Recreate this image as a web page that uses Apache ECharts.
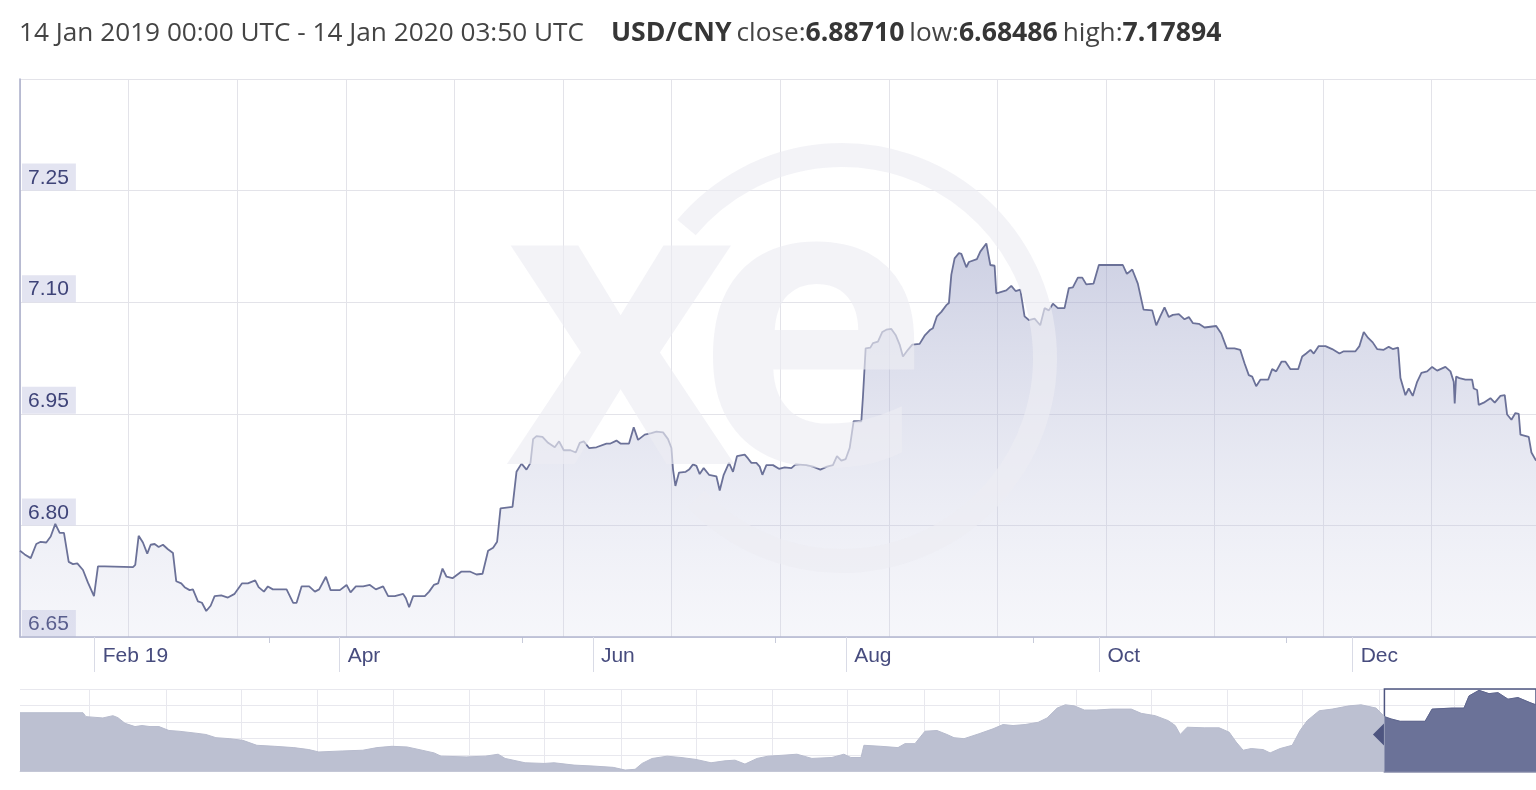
<!DOCTYPE html>
<html><head><meta charset="utf-8">
<script src="https://cdn.jsdelivr.net/npm/echarts@6/dist/echarts.min.js"></script>
<style>html,body{margin:0;padding:0;background:#fff}#c{width:1536px;height:790px}</style>
</head><body><div id="c"></div>
<script>
// ---------- header texts ----------
const headerRange = '14 Jan 2019 00:00 UTC - 14 Jan 2020 03:50 UTC';
const pairName = 'USD/CNY';
const statNames = ['close:', 'low:', 'high:'];
const statValues = ['6.88710', '6.68486', '7.17894'];

// ---------- main series (days after 14 Jan 2019 00:00 UTC, USD/CNY rate) ----------
const rangeStart = '2019-01-14T00:00:00Z';
const rangeEnd = '2020-01-14T03:50:00Z';
const dayOffsets = [
  0,1.13,2.58,3.92,4.98,6.33,7.39,8.50,9.56,10.59,11.73,12.76,13.80,15.17,16.37,17.82,18.78,20.39,
  27.21,27.76,28.58,29.61,30.65,31.47,32.43,33.40,34.43,35.63,36.84,37.63,38.84,39.65,40.86,41.65,
  42.86,43.82,44.86,45.92,46.88,48.47,50.08,51.69,53.45,54.89,56.65,57.47,58.75,59.71,60.91,62.12,
  64.21,65.80,66.62,67.82,69.65,71.03,72.06,73.68,74.81,77.05,78.66,79.62,80.90,82.66,84.27,85.71,
  87.47,88.67,90.29,92.29,92.94,93.73,94.70,97.51,98.55,99.68,100.71,101.77,102.74,104.18,106.35,
  108.35,109.96,111.41,112.75,113.96,114.92,115.74,118.63,119.59,120.80,122.00,122.96,123.59,124.41,
  125.85,127.20,128.81,129.85,130.98,132.59,133.87,134.83,135.79,137.07,138.85,141.26,142.22,143.67,
  144.63,146.70,147.83,148.87,150.48,152.09,153.30,154.89,156.09,156.91,157.30,157.87,158.74,160.35,
  161.15,162.11,162.93,163.72,164.68,165.96,167.74,168.54,169.50,170.78,171.74,172.70,174.56,175.35,
  176.17,177.37,178.17,178.82,179.78,181.37,182.81,184.19,185.80,186.84,189.41,191.00,192.78,194.37,
  195.81,196.78,197.84,198.87,199.84,200.80,202.65,203.04,203.69,204.82,205.45,206.65,207.71,208.67,
  209.88,210.91,211.88,212.67,213.87,214.93,216.69,217.89,219.27,219.89,220.86,221.92,223.12,223.75,
  224.33,225.12,226.16,226.74,227.94,228.57,230.49,231.31,232.76,233.72,234.75,235.16,235.79,237.57,
  238.77,239.81,240.94,241.97,243.01,244.38,245.75,246.79,247.82,248.79,249.99,251.60,252.64,253.60,
  254.81,255.87,256.83,258.59,259.87,265.64,266.61,267.91,269.25,270.63,272.72,273.69,274.65,275.68,
  276.72,277.68,279.13,280.50,281.54,282.50,283.95,285.32,288.13,289.34,290.68,292.54,293.91,294.95,
  295.98,296.80,297.76,298.80,300.65,301.61,302.58,303.85,304.82,306.02,307.87,308.84,309.80,310.84,
  311.63,312.83,314.45,316.06,317.82,318.85,321.67,322.63,323.67,324.73,325.83,326.89,328.48,329.69,
  330.65,331.95,332.51,333.71,334.51,335.47,336.53,337.56,338.94,340.14,341.35,343.34,344.55,345.34,
  345.58,345.92,346.71,348.16,349.77,350.16,350.98,351.36,352.57,354.18,355.22,356.59,357.63,358.20,
  359.24,360.20,361.00,361.41,363.41,364.06,365.16
];
const rates = [
  6.766,6.761,6.756,6.775,6.778,6.777,6.785,6.802,6.790,6.790,6.751,6.748,6.749,6.740,6.723,6.705,6.745,6.745,
  6.744,6.747,6.786,6.777,6.762,6.774,6.775,6.771,6.774,6.768,6.763,6.725,6.722,6.717,6.713,6.714,
  6.698,6.696,6.685,6.692,6.705,6.706,6.703,6.708,6.722,6.722,6.726,6.717,6.711,6.718,6.714,6.714,
  6.714,6.696,6.696,6.718,6.718,6.711,6.714,6.731,6.713,6.713,6.720,6.710,6.718,6.718,6.720,6.714,
  6.718,6.705,6.705,6.708,6.702,6.690,6.705,6.705,6.711,6.720,6.722,6.742,6.731,6.729,6.738,
  6.738,6.734,6.735,6.766,6.770,6.778,6.823,6.825,6.872,6.883,6.875,6.884,6.916,6.920,
  6.919,6.911,6.905,6.913,6.901,6.901,6.898,6.911,6.913,6.904,6.905,6.910,6.910,6.914,
  6.910,6.910,6.932,6.915,6.922,6.924,6.926,6.925,6.916,6.904,6.875,6.853,6.871,6.872,
  6.875,6.882,6.880,6.869,6.877,6.868,6.866,6.847,6.868,6.884,6.872,6.893,6.895,6.890,
  6.884,6.884,6.879,6.868,6.881,6.881,6.876,6.878,6.877,6.882,6.881,6.879,6.875,6.879,
  6.881,6.893,6.887,6.889,6.904,6.940,6.940,6.973,7.038,7.039,7.045,7.047,7.060,7.063,
  7.064,7.056,7.043,7.027,7.036,7.043,7.044,7.055,7.063,7.065,7.081,7.087,7.096,7.099,
  7.137,7.159,7.166,7.165,7.147,7.154,7.158,7.168,7.179,7.150,7.149,7.112,7.113,7.116,
  7.122,7.115,7.117,7.081,7.076,7.078,7.069,7.092,7.089,7.098,7.092,7.092,7.119,7.120,
  7.133,7.133,7.124,7.125,7.150,7.150,7.138,7.144,7.125,7.090,7.089,7.069,7.081,7.093,
  7.080,7.083,7.084,7.077,7.080,7.072,7.071,7.066,7.068,7.058,7.038,7.038,7.036,7.018,
  7.002,7.000,6.987,6.996,6.996,7.010,7.007,7.020,7.020,7.010,7.010,7.027,7.031,7.036,
  7.031,7.041,7.041,7.037,7.031,7.034,7.034,7.041,7.060,7.052,7.046,7.037,7.036,7.040,
  7.037,7.039,6.998,6.975,6.984,6.974,6.993,7.005,7.007,7.013,7.008,7.013,7.007,6.993,
  6.964,7.000,6.998,6.996,6.996,6.984,6.982,6.962,6.965,6.971,6.965,6.974,6.975,6.949,
  6.942,6.951,6.950,6.922,6.919,6.898,6.887
];

// ---------- axis ticks ----------
const yTickValues = [6.65, 6.80, 6.95, 7.10, 7.25];
const yAxisTop = 7.40;
const yAxisBottom = 6.65;
const xTickDates = ['2019-02-01','2019-04-01','2019-06-01','2019-08-01','2019-10-01','2019-12-01'];
const xTickLabels = ['Feb 19','Apr','Jun','Aug','Oct','Dec'];
const xMinorTickDates = ['2019-03-15','2019-05-15','2019-07-15','2019-09-15','2019-11-15'];
const mainGridColumns = 13.96;

// ---------- navigator (decimal year, USD/CNY rate) ----------
const navYears = [
  2010.036,2010.452,2010.471,2010.583,2010.649,2010.682,2010.729,2010.795,2010.841,2010.894,2010.953,
  2011.019,2011.085,2011.197,2011.263,2011.329,2011.421,2011.507,2011.599,2011.718,2011.843,2011.942,
  2012.008,2012.166,2012.298,2012.391,2012.490,2012.589,2012.688,2012.767,2012.813,2012.978,
  2013.104,2013.189,2013.235,2013.367,2013.492,2013.558,2013.690,2013.816,2013.948,
  2014.027,2014.093,2014.139,2014.205,2014.304,2014.396,2014.495,2014.594,2014.686,2014.752,2014.818,2014.898,2014.970,
  2015.069,2015.161,2015.260,2015.392,2015.471,2015.517,2015.584,2015.603,2015.715,2015.828,2015.874,2015.940,
  2016.006,2016.085,2016.151,2016.197,2016.263,2016.362,2016.454,2016.520,2016.586,2016.665,2016.751,2016.810,2016.876,2016.929,2016.988,
  2017.055,2017.134,2017.233,2017.365,2017.431,2017.523,2017.609,2017.655,2017.688,2017.734,2017.846,2017.945,
  2018.011,2018.057,2018.103,2018.156,2018.235,2018.281,2018.347,2018.427,2018.479,2018.526,2018.605,2018.691,2018.803,2018.882,2018.981,
  2019.036,2019.080,2019.139,2019.304,2019.350,2019.482,2019.561,2019.594,2019.660,2019.726,2019.785,2019.851,2019.917,2019.996,
  2020.036
];
const navRates = [
  6.853,6.853,6.799,6.781,6.812,6.785,6.707,6.662,6.676,6.662,6.662,
  6.608,6.598,6.571,6.553,6.509,6.495,6.472,6.404,6.390,6.372,6.345,
  6.312,6.326,6.336,6.372,6.390,6.381,6.336,6.299,6.254,6.244,
  6.254,6.281,6.223,6.163,6.154,6.163,6.131,6.118,6.100,
  6.063,6.073,6.154,6.222,6.254,6.236,6.209,6.163,6.190,6.199,6.145,6.223,6.254,
  6.267,6.281,6.223,6.236,6.281,6.236,6.236,6.404,6.390,6.372,6.427,6.427,
  6.598,6.608,6.553,6.509,6.495,6.563,6.631,6.690,6.676,6.690,6.721,6.781,6.917,6.962,6.948,
  6.890,6.890,6.903,6.903,6.844,6.812,6.744,6.676,6.553,6.653,6.645,6.645,
  6.585,6.449,6.336,6.359,6.345,6.299,6.359,6.404,6.608,6.744,6.880,6.903,6.948,6.962,6.917,
  6.799,6.767,6.735,6.735,6.903,6.917,6.917,7.085,7.162,7.116,7.130,7.040,7.062,6.993,
  6.962
];
const navStartYear = 2010.036;
const navMin = 6.04, navMax = 7.18;
const navGridDates = ['2010-07-01','2011-01-01','2011-07-01','2012-01-01','2012-07-01','2013-01-01','2013-07-01',
  '2014-01-01','2014-07-01','2015-01-01','2015-07-01','2016-01-01','2016-07-01','2017-01-01','2017-07-01',
  '2018-01-01','2018-07-01','2019-01-01','2019-07-01'];
const navHandleLevel = 6.553;

// ---------- build ----------
const DAY = 86400000;
const t0 = Date.parse(rangeStart), t1 = Date.parse(rangeEnd);
const ts = s => Date.parse(s + 'T00:00:00Z');
const yearToTs = y => { const Y = Math.floor(y); const a = Date.UTC(Y,0,1), b = Date.UTC(Y+1,0,1); return a + (y - Y) * (b - a); };

const mainData = dayOffsets.map((d, i) => [t0 + d * DAY, rates[i]]);
const xTickTs = xTickDates.map(ts);
const xMinorTs = xMinorTickDates.map(ts);
const navData = navYears.map((y, i) => [yearToTs(y), navRates[i]]);
const navSel = navData.filter(p => p[0] >= t0 - DAY / 2);
const navT0 = yearToTs(navStartYear);

const axisFont = "'Liberation Sans', Arial, sans-serif";
const titleText = `{r|${headerRange}}{g|}{b|${pairName}} ` +
  statNames.map((n, i) => `{r|${n}}{b|${statValues[i]}}`).join(' ');
const wmColor = 'rgba(236,237,243,0.65)';

const chart = echarts.init(document.getElementById('c'), null, {renderer: 'canvas'});
chart.setOption({
  backgroundColor: '#ffffff',
  animation: false,
  title: {
    left: 19, top: 20, padding: 0,
    text: titleText,
    textStyle: {
      fontWeight: 'normal',
      rich: {
        r: {fontFamily: "'Open Sans'", fontSize: 26.2, fontWeight: 'normal', color: '#444444'},
        b: {fontFamily: "'Open Sans'", fontSize: 26.6, fontWeight: 'bold', color: '#363636'},
        g: {width: 27}
      }
    }
  },
  grid: [
    {left: 20, right: 0, top: 79, height: 558, outerBoundsMode: 'none', containLabel: false},
    {left: 20, right: 0, top: 689, height: 82.7, outerBoundsMode: 'none', containLabel: false}
  ],
  xAxis: [
    {
      type: 'value', gridIndex: 0, min: t0, max: t1, position: 'bottom', z: 5,
      axisLine: {show: true, lineStyle: {color: '#b3b7d0', width: 1.5}},
      axisTick: {show: true, customValues: xTickTs, length: 35, lineStyle: {color: '#d9dbe6', width: 1}},
      axisLabel: {
        show: true, customValues: xTickTs, align: 'left', margin: 9,
        padding: [0, 0, 0, 8], fontSize: 21, fontFamily: axisFont, color: '#474c7e',
        formatter: v => { const i = xTickTs.indexOf(v); return i >= 0 ? xTickLabels[i] : ''; }
      },
      splitLine: {show: false}
    },
    {
      type: 'value', gridIndex: 0, min: t0, max: t1, position: 'bottom',
      axisLine: {show: false},
      axisTick: {show: true, customValues: xMinorTs, length: 6, lineStyle: {color: '#c8cbda'}},
      axisLabel: {show: false},
      splitLine: {show: false}
    },
    {
      type: 'value', gridIndex: 0, min: 0, max: mainGridColumns, interval: 1, position: 'top',
      axisLine: {show: false}, axisTick: {show: false}, axisLabel: {show: false},
      splitLine: {show: true, lineStyle: {color: '#e3e3e9', width: 1}}
    },
    {
      type: 'value', gridIndex: 1, min: navT0, max: t1, position: 'bottom',
      axisLine: {show: true, lineStyle: {color: '#dcdce4'}},
      axisTick: {show: false, customValues: navGridDates.map(ts)},
      axisLabel: {show: false},
      splitLine: {show: true, lineStyle: {color: '#e8e8ee'}}
    }
  ],
  yAxis: [
    {
      type: 'value', gridIndex: 0, min: yAxisBottom, max: yAxisTop, position: 'left',
      axisLine: {show: true, lineStyle: {color: '#a9adc8', width: 1.5}},
      axisTick: {show: false, customValues: yTickValues.concat([yAxisTop])},
      splitLine: {show: true, lineStyle: {color: '#e3e3e9', width: 1}},
      axisLabel: {
        show: true, inside: true, customValues: yTickValues, margin: 2,
        verticalAlign: 'bottom', fontSize: 21, fontFamily: axisFont, color: '#3e4378',
        backgroundColor: 'rgba(216,218,236,0.72)', padding: [3, 7, 1, 6], lineHeight: 23,
        formatter: v => v.toFixed(2)
      }
    },
    {
      type: 'value', gridIndex: 1, min: navMin, max: navMax, show: false,
      splitLine: {show: false}
    },
    {
      type: 'value', gridIndex: 1, min: 0, max: 5, interval: 1,
      axisLine: {show: false}, axisTick: {show: false}, axisLabel: {show: false},
      splitLine: {show: true, lineStyle: {color: '#e8e8ee'}}
    }
  ],
  graphic: [
    {
      type: 'arc', z: 50, silent: true,
      shape: {cx: 842, cy: 358, r: 203, startAngle: -140 * Math.PI / 180, endAngle: 136 * Math.PI / 180, clockwise: true},
      style: {stroke: wmColor, lineWidth: 24, fill: null}
    },
    {
      type: 'text', z: 50, silent: true, left: 505, top: 150,
      style: {text: 'x', font: "bold 400px 'Open Sans'", fill: wmColor}
    },
    {
      type: 'text', z: 50, silent: true, left: 695, top: 150,
      style: {text: 'e', font: "bold 400px 'Open Sans'", fill: wmColor}
    }
  ],
  series: [
    {
      type: 'line', xAxisIndex: 0, yAxisIndex: 0, data: mainData,
      showSymbol: false, symbol: 'none', smooth: false, z: 3,
      lineStyle: {color: '#6b7198', width: 1.8},
      areaStyle: {
        opacity: 1,
        color: {type: 'linear', x: 0, y: 0, x2: 0, y2: 1, colorStops: [
          {offset: 0, color: 'rgba(150,156,196,0.48)'},
          {offset: 1, color: 'rgba(205,208,230,0.18)'}
        ]}
      }
    },
    {
      type: 'line', xAxisIndex: 3, yAxisIndex: 1, data: navData,
      showSymbol: false, symbol: 'none', z: 2,
      lineStyle: {color: '#b7bbcd', width: 1},
      areaStyle: {color: '#bcc0d1', opacity: 1}
    },
    {
      type: 'line', xAxisIndex: 3, yAxisIndex: 1, data: navSel,
      showSymbol: false, symbol: 'none', z: 3,
      lineStyle: {color: '#5d648c', width: 1},
      areaStyle: {color: '#6b7298', opacity: 1},
      markArea: {
        silent: true,
        itemStyle: {color: 'rgba(0,0,0,0)', borderColor: '#4e5580', borderWidth: 1.5},
        data: [[{xAxis: t0, yAxis: navMin}, {xAxis: t1, yAxis: navMax}]]
      },
      markPoint: {
        silent: true, symbol: 'triangle', symbolRotate: 90, symbolSize: [22, 11], symbolOffset: [-6, 0],
        itemStyle: {color: '#4e5580'}, label: {show: false},
        data: [{coord: [t0, navHandleLevel]}]
      }
    }
  ]
});
</script>
</body></html>
